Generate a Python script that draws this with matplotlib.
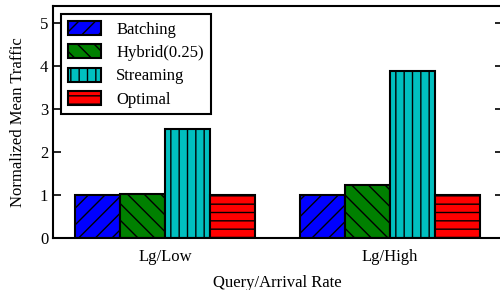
import matplotlib
matplotlib.use('Agg')
import matplotlib.pyplot as plt
import numpy as np

plt.rcParams['font.family'] = ['Liberation Serif', 'DejaVu Serif']
plt.rcParams['hatch.linewidth'] = 1.0

groups = ['Lg/Low', 'Lg/High']
series = ['Batching', 'Hybrid(0.25)', 'Streaming', 'Optimal']
batching = [1.0, 1.0]
hybrid = [1.03, 1.23]
streaming = [2.53, 3.90]
optimal = [1.0, 1.0]

colors = ['blue', 'green', '#00BFBF', 'red']
hatches = ['//', '\\\\', '||', '--']

fig = plt.figure(figsize=(5, 2.9), dpi=100)
ax = fig.add_axes([0.106, 0.179, 0.899, 0.80])

x = np.arange(len(groups))
w = 0.2
for i, (name, vals) in enumerate(zip(series, [batching, hybrid, streaming, optimal])):
    ax.bar(x + (i - 1.5) * w, vals, w, color=colors[i], hatch=hatches[i],
           edgecolor='black', linewidth=1.5, label=name)

ax.set_xlim(-0.5, 1.5)
ax.set_ylim(0, 5.4)
ax.set_xticks(x)
ax.set_xticklabels(groups, fontsize=12)
ax.set_yticks([0, 1, 2, 3, 4, 5])
ax.tick_params(axis='y', direction='in', right=True, labelsize=12, width=1.2, length=6)
ax.tick_params(axis='x', length=0, pad=8)
for s in ax.spines.values():
    s.set_linewidth(1.5)
ax.set_ylabel('Normalized Mean Traffic', fontsize=12, labelpad=10)
ax.set_xlabel('Query/Arrival Rate', fontsize=12, labelpad=7)

leg = ax.legend(loc='upper left', fontsize=12, fancybox=False, framealpha=1,
                borderaxespad=0.5, handlelength=2.0, handleheight=0.9,
                labelspacing=0.4, handletextpad=0.9)
leg.get_frame().set_edgecolor('black')
leg.get_frame().set_linewidth(1.5)

fig.savefig('out.png', dpi=100)
